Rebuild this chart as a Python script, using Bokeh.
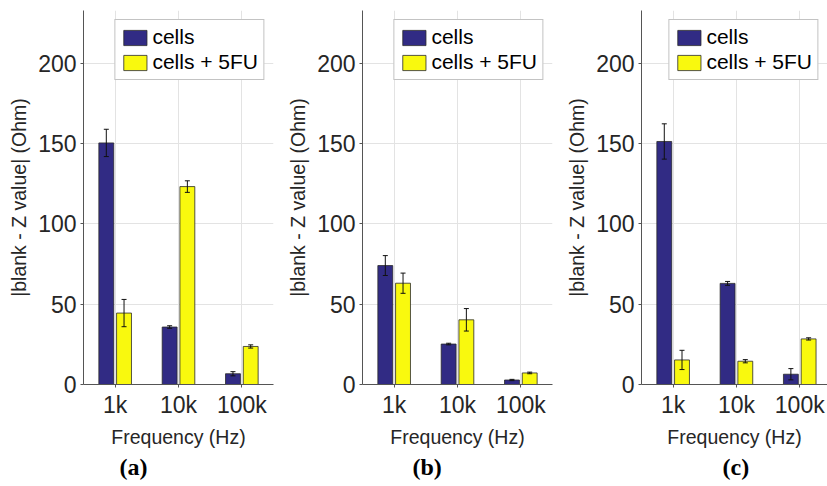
from bokeh.plotting import figure
from bokeh.layouts import row
from bokeh.models import (ColumnDataSource, Range1d, FixedTicker, Whisker, TeeHead,
                          Title)
from bokeh.embed import file_html
from bokeh.resources import INLINE

# ---- data -------------------------------------------------------------
freq_labels = ["1k", "10k", "100k"]
series_names = ["cells", "cells + 5FU"]
panel_tags = ["(a)", "(b)", "(c)"]

cells_a = [150.5, 35.8, 6.7]
cells_a_err = [8.5, 0.8, 1.3]
fu_a = [44.5, 123.3, 23.7]
fu_a_err = [8.5, 3.6, 1.0]

cells_b = [74.1, 25.2, 2.8]
cells_b_err = [6.2, 0.5, 0.4]
fu_b = [63.1, 40.3, 7.2]
fu_b_err = [6.3, 7.0, 0.5]

cells_c = [151.4, 63.0, 6.4]
cells_c_err = [11.0, 1.2, 3.5]
fu_c = [15.3, 14.5, 28.4]
fu_c_err = [6.0, 1.0, 0.7]

y_max = 233
# ----------------------------------------------------------------------

DARK = "#312b84"
YELLOW = "#f9f90e"
TXT = "#262626"
FONT = "Liberation Sans"


def make_panel(tag, cells, cells_err, fu, fu_err, x_end, width, right_border, sub_x):
    p = figure(frame_width=int(width), frame_height=374,
               min_border_left=83, min_border_right=right_border,
               min_border_top=10, min_border_bottom=102,
               x_range=Range1d(0.5, x_end), y_range=Range1d(0, y_max),
               toolbar_location=None, output_backend="svg")
    p.outline_line_color = None
    p.background_fill_color = "white"
    p.border_fill_color = "white"

    xs = list(range(1, len(freq_labels) + 1))
    off = 0.14
    bw = 0.235
    for vals, errs, color, name, sgn in [(cells, cells_err, DARK, series_names[0], -1),
                                         (fu, fu_err, YELLOW, series_names[1], 1)]:
        src = ColumnDataSource(dict(
            x=[x + sgn * off for x in xs], top=vals,
            upper=[v + e for v, e in zip(vals, errs)],
            lower=[v - e for v, e in zip(vals, errs)]))
        p.vbar(x="x", top="top", width=bw, source=src, fill_color=color,
               line_color="#2a2a2a", line_width=0.8, legend_label=name)
        w = Whisker(base="x", upper="upper", lower="lower", source=src,
                    line_color="#111111", line_width=1,
                    upper_head=TeeHead(size=5, line_color="#111111", line_width=1),
                    lower_head=TeeHead(size=5, line_color="#111111", line_width=1))
        w.level = "overlay"
        p.add_layout(w)

    # axes
    p.xaxis.ticker = FixedTicker(ticks=xs)
    p.xaxis.major_label_overrides = {x: l for x, l in zip(xs, freq_labels)}
    p.yaxis.ticker = FixedTicker(ticks=[0, 50, 100, 150, 200])
    for ax in (p.xaxis[0], p.yaxis[0]):
        ax.axis_line_color = "#555555"
        ax.axis_line_width = 1
        ax.major_tick_line_color = "#555555"
        ax.major_tick_in = 0
        ax.major_tick_out = 3
        ax.minor_tick_line_color = None
        ax.major_label_text_font = FONT
        ax.major_label_text_font_size = "23px"
        ax.major_label_text_color = TXT
        ax.axis_label_text_font = FONT
        ax.axis_label_text_font_size = "19.5px"
        ax.axis_label_text_font_style = "normal"
        ax.axis_label_text_color = TXT
        ax.axis_label_standoff = 5
    p.xaxis.major_label_standoff = 4
    p.yaxis.major_label_standoff = 4
    p.xaxis.axis_label = "Frequency (Hz)"
    p.yaxis.axis_label = "|blank - Z value| (Ohm)"

    p.xgrid.grid_line_color = "#e3e3e3"
    p.ygrid.grid_line_color = "#e3e3e3"

    # legend
    lg = p.legend[0]
    lg.location = "top_right"
    lg.margin = 9
    lg.padding = 5
    lg.spacing = 1
    lg.glyph_width = 29
    lg.glyph_height = 19
    lg.label_standoff = 3
    lg.label_text_font = FONT
    lg.label_text_font_size = "21px"
    lg.label_text_color = "#000000"
    lg.label_height = 19
    lg.border_line_color = "#888888"
    lg.border_line_width = 1
    lg.background_fill_alpha = 1

    # sub-caption below the axis title
    t = Title(text=tag, align="left", offset=sub_x - 16,
              text_font="Liberation Serif", text_font_size="24px",
              text_font_style="bold", text_color="#000000", standoff=2)
    p.add_layout(t, "below")
    return p


pa = make_panel(panel_tags[0], cells_a, cells_a_err, fu_a, fu_a_err, 3.5, 190, 6, 52)
pb = make_panel(panel_tags[1], cells_b, cells_b_err, fu_b, fu_b_err, 3.5, 190, 6, 66)
pc = make_panel(panel_tags[2], cells_c, cells_c_err, fu_c, fu_c_err, 0.5 + 186 / 63.3, 186, 0, 97)

layout = row(pa, pb, pc, spacing=0)
open("out.html", "w").write(file_html(layout, INLINE))
